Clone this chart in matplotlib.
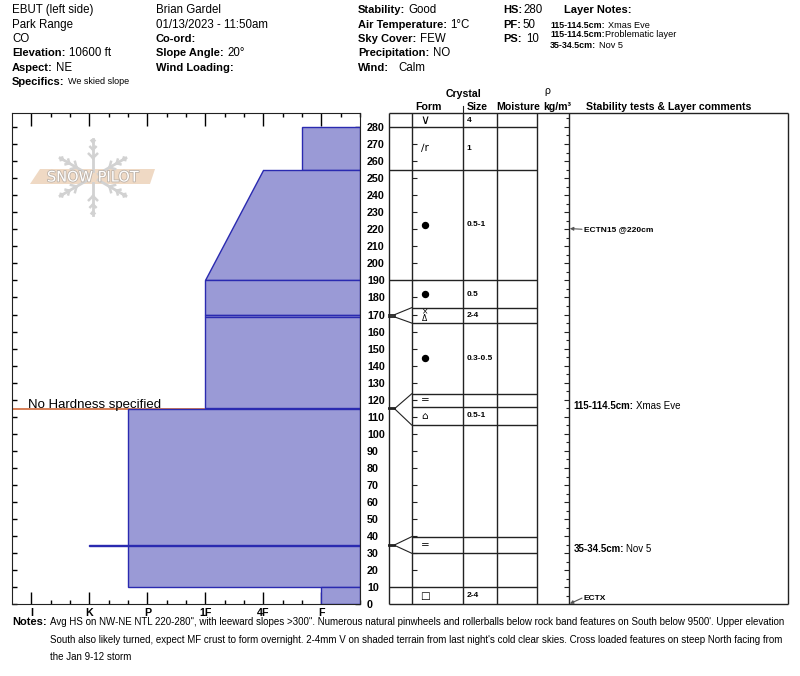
import numpy as np
import matplotlib.pyplot as plt
import matplotlib.patheffects as pe
from matplotlib.patches import Polygon

plt.rcParams['font.family'] = ['Liberation Sans', 'DejaVu Sans']

# ---- data -------------------------------------------------------------
HARD_LABELS = ['I', 'K', 'P', '1F', '4F', 'F']          # hand hardness, index 1..6

# hardness profile: layer top / bottom (cm) and hardness index at top / bottom
layer_top = [280, 255, 190, 170, 168.5, 114.5, 35, 10]
layer_bottom = [255, 190, 170, 168.5, 115, 10, 34.5, 0]
hard_at_top = [5.67, 5.0, 4.0, 4.0, 4.0, 2.67, 2.0, 6.0]
hard_at_bottom = [5.67, 4.0, 4.0, 4.0, 4.0, 2.67, 2.0, 6.0]
no_hardness_depth = 114.75

# crystal table rows as displayed (cm)
row_top = [288, 280, 255, 190, 174, 165, 123.5, 115.9, 105.2, 39.7, 30, 10]
row_bottom = [280, 255, 190, 174, 165, 123.5, 115.9, 105.2, 39.7, 30, 10, 0]
row_form = ['∨', '∕r', 'dot', 'dot', '×\nΔ', 'dot', '=', '⌂', '', '=', '', '□']
row_size = ['4', '1', '0.5-1', '0.5', '2-4', '0.3-0.5', '', '0.5-1', '', '', '', '2-4']

# thin layers: real depth -> expanded display in table
thin_top = [170, 115, 35]
thin_bottom = [168.5, 114.5, 34.5]
thin_disp_top = [174, 123.5, 39.7]
thin_disp_bottom = [165, 105.2, 30]

# stability tests and layer comments
test_depth = [220, 0]
test_label = ['ECTN15 @220cm', 'ECTX']
note_depth = [116.5, 32.2]
note_key = ['115-114.5cm:', '35-34.5cm:']
note_text = ['Xmas Eve', 'Nov 5']

notes = ["Avg HS on NW-NE NTL 220-280\", with leeward slopes >300\". Numerous natural pinwheels and rollerballs below rock band features on South below 9500'. Upper elevation",
         "South also likely turned, expect MF crust to form overnight. 2-4mm V on shaded terrain from last night's cold clear skies. Cross loaded features on steep North facing from",
         "the Jan 9-12 storm"]

FILL = '#9a9ad6'
EDGE = '#2a2ab0'
LINE = '#222222'

W, H = 800, 676
fig = plt.figure(figsize=(8, 6.76), dpi=100)
renderer = fig.canvas.get_renderer()


def fx(x):
    return x / W


def fy(y):
    return 1 - y / H


def ftext(x, y, s, **kw):
    kw.setdefault('fontsize', 8.3)
    return fig.text(fx(x), fy(y), s, va='center', ha=kw.pop('ha', 'left'), **kw)


def pair(x, y, key, value, size=8.3, ksize=8.0, gap=3.5):
    t = ftext(x, y, key, fontsize=ksize, fontweight='bold')
    x1 = t.get_window_extent(renderer).x1
    ftext(x1 + gap, y, value, fontsize=size)


TOP_CM = 288

# ---- hardness profile -------------------------------------------------
ax_h = fig.add_axes([fx(12), fy(604.4), fx(360) - fx(12), fy(113.3) - fy(604.4)])
ax_h.set_xlim(2 / 3, 20 / 3)
ax_h.set_ylim(0, TOP_CM)
xr = ax_h.get_xlim()[1]

ax_h.axhline(no_hardness_depth, color='#d0683a', lw=1.2, zorder=1)
ax_h.text(0.94, no_hardness_depth + 0.6, 'No Hardness specified', fontsize=9.5,
          va='baseline', zorder=5)

for t, b, ht, hb in zip(layer_top, layer_bottom, hard_at_top, hard_at_bottom):
    ax_h.fill([ht, xr, xr, hb], [t, t, b, b], facecolor=FILL, edgecolor=EDGE,
              lw=1, zorder=2)

ax_h.set_xticks(range(1, 7), HARD_LABELS, fontweight='bold', fontsize=7.7)
ax_h.set_xticks([k / 3 for k in range(3, 21) if k % 3], minor=True)
ax_h.tick_params(axis='x', which='major', direction='in', length=9, width=1,
                 top=True, bottom=True, pad=2.5)
ax_h.tick_params(axis='x', which='minor', direction='in', length=3, width=1,
                 top=True, bottom=True)
ax_h.set_yticks(np.arange(0, 281, 10))
ax_h.tick_params(axis='y', direction='in', length=3.6, width=1, left=True, right=True,
                 labelleft=False, labelright=True, pad=5, labelsize=7.7)
for lab in ax_h.get_yticklabels():
    lab.set_fontweight('bold')
for sp in ax_h.spines.values():
    sp.set_color(LINE)

# ---- watermark --------------------------------------------------------
axl = fig.add_axes([fx(28), fy(218), fx(160) - fx(28), fy(135) - fy(218)])
axl.set_xlim(28, 160)
axl.set_ylim(218, 135)
axl.axis('off')
cx, cy, R = 93, 177, 38
for a in np.radians([30, 90, 150, 210, 270, 330]):
    ux, uy = np.cos(a), -np.sin(a)
    axl.plot([cx + 6 * ux, cx + R * ux], [cy + 6 * uy, cy + R * uy], color='#d2d2d2', lw=2)
    for f in (0.5, 0.72, 0.92):
        px, py = cx + f * R * ux, cy + f * R * uy
        for s in (-1, 1):
            b = a + s * np.radians(45)
            L = 9 * (1.15 - f)
            axl.plot([px, px + L * np.cos(b)], [py, py - L * np.sin(b)], color='#d2d2d2', lw=1.8)
axl.add_patch(Polygon([(30, 184), (40, 169), (155, 169), (150, 184)], closed=True,
                      facecolor='#efd9c4', edgecolor='none'))
axl.text(93, 177, 'SNOW PILOT', fontsize=10.5, color='white', ha='center', va='center',
         family='DejaVu Sans',
         path_effects=[pe.withStroke(linewidth=1.2, foreground='#bdb3aa')])

# ---- crystal table ----------------------------------------------------
ax_t = fig.add_axes([fx(360), fy(604.4), fx(790) - fx(360), fy(113.3) - fy(604.4)])
ax_t.set_xlim(360, 790)
ax_t.set_ylim(0, TOP_CM)
ax_t.axis('off')
ax_t.patch.set_alpha(0)

COLS = [389, 411.7, 463.3, 496.7, 537.3, 569.3, 788]
ax_t.vlines(COLS, 0, TOP_CM, color=LINE, lw=1, clip_on=False)
ax_t.hlines([0, TOP_CM], 389, 788, color=LINE, lw=1, clip_on=False)

# row rules
for b in row_bottom[:-1]:
    inside = any(db <= b <= dt for dt, db in zip(thin_disp_top, thin_disp_bottom))
    ax_t.hlines(b, 411.7 if inside else 389, 537.3, color=LINE, lw=1)

# fan lines for thin layers
for t, b, dt, db in zip(thin_top, thin_bottom, thin_disp_top, thin_disp_bottom):
    ax_t.plot([389, 395], [t, t], color=LINE, lw=1.3)
    ax_t.plot([389, 395], [b, b], color=LINE, lw=1.3)
    ax_t.plot([395, 411.7], [t, dt], color=LINE, lw=0.8)
    ax_t.plot([395, 411.7], [b, db], color=LINE, lw=0.8)

# small ticks
ax_t.hlines(np.arange(10, 281, 10), 411.7, 416.7, color=LINE, lw=0.8)
ax_t.hlines(np.arange(10, 281, 10), 563.5, 569.3, color=LINE, lw=0.8)
ax_t.hlines(np.arange(5, 286, 10), 566, 569.3, color=LINE, lw=0.8)

for t, b, f, s in zip(row_top, row_bottom, row_form, row_size):
    yc = (t + b) / 2
    if f == 'dot':
        ax_t.plot(425, yc, 'o', ms=4.3, color='black')
    elif f:
        fs = 5.5 if '\n' in f else (9 if f == '∨' else 7.5)
        ax_t.text(425, yc, f, fontsize=fs, ha='center', va='center', linespacing=0.75,
                  family=['DejaVu Sans'])
    if s:
        ax_t.text(466.7, yc, s, fontsize=6, fontweight='bold', va='center')

for d, lab in zip(test_depth, test_label):
    ty = max(d, 3.7)
    ax_t.annotate('', xy=(569.8, d + 0.4), xytext=(582, ty),
                  arrowprops=dict(arrowstyle='-|>', color='#555555', lw=0.8,
                                  mutation_scale=5, shrinkA=0, shrinkB=0))
    ax_t.text(584, ty, lab, fontsize=6, fontweight='bold', va='center')

note_value_x = [636, 625.7]
for d, k, v, vx in zip(note_depth, note_key, note_text, note_value_x):
    ax_t.text(573.3, d, k, fontsize=7, fontweight='bold', va='center')
    ax_t.text(vx, d, v, fontsize=7, va='center')

# column headers
ftext(463.8, 94, 'Crystal', fontsize=7.6, fontweight='bold', ha='center')
ftext(428, 106.7, 'Form', fontsize=7.6, fontweight='bold', ha='center')
ftext(477, 106.7, 'Size', fontsize=7.6, fontweight='bold', ha='center')
ftext(518, 106.7, 'Moisture', fontsize=7.6, fontweight='bold', ha='center')
ftext(547, 91, 'ρ', fontsize=7.6, ha='center')
ftext(557.7, 106.7, 'kg/m³', fontsize=7.6, fontweight='bold', ha='center')
ftext(586, 106.7, 'Stability tests & Layer comments', fontsize=7.6, fontweight='bold')
fig.add_artist(plt.Line2D([fx(463.3), fx(463.3)], [fy(106), fy(112)], color=LINE, lw=0.8))

# ---- header block -----------------------------------------------------
rows_y = [10, 25, 39.3, 53.3, 67.7, 82]
ftext(12, rows_y[0], 'EBUT (left side)')
ftext(12, rows_y[1], 'Park Range')
ftext(12, rows_y[2], 'CO')
pair(12, rows_y[3], 'Elevation:', '10600 ft')
pair(12, rows_y[4], 'Aspect:', 'NE')
pair(12, rows_y[5], 'Specifics:', 'We skied slope', size=6.5)

ftext(156, rows_y[0], 'Brian Gardel')
ftext(156, rows_y[1], '01/13/2023 - 11:50am')
ftext(156, rows_y[2], 'Co-ord:', fontsize=8.0, fontweight='bold')
pair(156, rows_y[3], 'Slope Angle:', '20°')
ftext(156, rows_y[4], 'Wind Loading:', fontsize=8.0, fontweight='bold')

col3 = [('Stability:', 'Good', 3.5), ('Air Temperature:', '1°C', 3.5),
        ('Sky Cover:', 'FEW', 3.5), ('Precipitation:', 'NO', 3.5),
        ('Wind:', 'Calm', 9)]
for y, (k, v, g) in zip(rows_y, col3):
    pair(358, y, k, v, gap=g)

col4 = [('HS:', '280', 1), ('PF:', '50', 1), ('PS:', '10', 4)]
for y, (k, v, g) in zip(rows_y, col4):
    pair(503.3, y, k, v, gap=g)

ftext(564, rows_y[0], 'Layer Notes:', fontsize=8.0, fontweight='bold')
layer_notes = [('115-114.5cm:', 'Xmas Eve', 3), ('115-114.5cm:', 'Problematic layer', 0.5),
               ('35-34.5cm:', 'Nov 5', 3)]
for y, (k, v, g) in zip([25, 34.5, 45], layer_notes):
    pair(550, y, k, v, size=6.6, ksize=6.4, gap=g)

# ---- notes ------------------------------------------------------------
ftext(12, 622, 'Notes:', fontsize=8.0, fontweight='bold')
for y, line in zip([622, 640, 657], notes):
    ftext(50, y, line, fontsize=7.03)

fig.savefig('out.png', dpi=100)
